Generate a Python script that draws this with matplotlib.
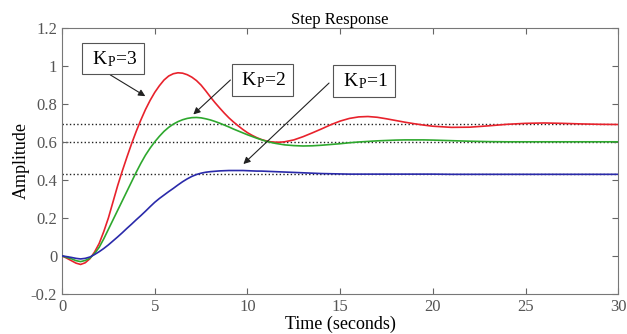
import numpy as np
import matplotlib
matplotlib.use('Agg')
import matplotlib.pyplot as plt

plt.rcParams['font.family'] = ['Liberation Serif', 'DejaVu Serif']
plt.rcParams['mathtext.fontset'] = 'custom'
plt.rcParams['mathtext.rm'] = 'Liberation Serif'
plt.rcParams['mathtext.it'] = 'Liberation Serif'

# time axis: 0..12 s in 0.25 s steps, 12.5..20 s in 0.5 s steps, then 21..30 s
t = ([i * 0.25 for i in range(49)] + [12.5 + i * 0.5 for i in range(16)]
     + list(range(21, 31)))

kp3 = [0, -0.012, -0.025, -0.038, -0.045, -0.036, -0.015, 0.02, 0.065, 0.128,
       0.2, 0.285, 0.37, 0.447, 0.52, 0.59, 0.655, 0.715, 0.77, 0.818,
       0.86, 0.895, 0.925, 0.946, 0.958, 0.963, 0.961, 0.953, 0.94, 0.922,
       0.898, 0.868, 0.836, 0.806, 0.778, 0.751, 0.726, 0.704, 0.684, 0.665,
       0.648, 0.634, 0.622, 0.612, 0.605, 0.6, 0.598, 0.598, 0.6,
       0.61, 0.627, 0.647, 0.668, 0.69, 0.709, 0.723, 0.731, 0.733, 0.729,
       0.721, 0.712, 0.703, 0.695, 0.688, 0.682,
       0.676, 0.677, 0.684, 0.692, 0.697, 0.699, 0.697, 0.694, 0.692, 0.691]
kp2 = [0, -0.008, -0.015, -0.025, -0.03, -0.024, -0.012, 0.012, 0.045, 0.09,
       0.14, 0.19, 0.24, 0.29, 0.34, 0.39, 0.44, 0.487, 0.53, 0.567,
       0.6, 0.629, 0.655, 0.676, 0.693, 0.706, 0.716, 0.723, 0.727, 0.728,
       0.726, 0.721, 0.715, 0.707, 0.698, 0.688, 0.678, 0.667, 0.657, 0.647,
       0.637, 0.628, 0.619, 0.611, 0.603, 0.597, 0.592, 0.588, 0.584,
       0.58, 0.578, 0.579, 0.582, 0.586, 0.59, 0.595, 0.599, 0.602, 0.605,
       0.607, 0.609, 0.61, 0.61, 0.61, 0.609,
       0.606, 0.603, 0.601, 0.6, 0.6, 0.6, 0.6, 0.6, 0.6, 0.6]
kp1 = [0, -0.004, -0.008, -0.013, -0.016, -0.013, -0.006, 0.007, 0.022, 0.039,
       0.058, 0.079, 0.1, 0.122, 0.145, 0.167, 0.19, 0.212, 0.235, 0.259,
       0.282, 0.302, 0.32, 0.338, 0.355, 0.373, 0.39, 0.405, 0.418, 0.428,
       0.435, 0.44, 0.443, 0.445, 0.447, 0.448, 0.449, 0.449, 0.449, 0.449,
       0.448, 0.447, 0.446, 0.446, 0.445, 0.444, 0.443, 0.442, 0.441,
       0.439, 0.437, 0.435, 0.433, 0.432, 0.431, 0.43, 0.43, 0.43, 0.43,
       0.43, 0.43, 0.43, 0.43, 0.43, 0.43,
       0.429, 0.429, 0.429, 0.429, 0.429, 0.429, 0.429, 0.429, 0.429, 0.429]
final_values = [0.6923, 0.6, 0.4286]

labels = [' K$_\\mathrm{P}$=3 ', ' K$_\\mathrm{P}$=2 ', ' K$_\\mathrm{P}$=1 ']
label_pos = [(2.76, 1.037), (10.8, 0.925), (16.3, 0.92)]
arrow_tail = [(2.6, 0.952), (9.08, 0.925), (14.4, 0.909)]
arrow_head = [(4.49, 0.84), (7.08, 0.744), (9.78, 0.483)]

fig = plt.figure(figsize=(6.27, 3.34), dpi=100)
ax = fig.add_axes([0.099, 0.12, 0.887, 0.797])

for v in final_values:
    ax.axhline(v, color='#222222', ls=':', lw=1.0, zorder=1)

ax.plot(t, kp3, color='#e8222c', lw=1.2, zorder=3)
ax.plot(t, kp2, color='#2ea82e', lw=1.2, zorder=3)
ax.plot(t, kp1, color='#2a2aaa', lw=1.2, zorder=3)

for lab, pos, tail, head in zip(labels, label_pos, arrow_tail, arrow_head):
    ax.annotate('', xy=head, xytext=tail,
                arrowprops=dict(arrowstyle='-|>', color='#222222', lw=0.8,
                                mutation_scale=10, shrinkA=0, shrinkB=0),
                zorder=4)
    ax.text(pos[0], pos[1], lab, fontsize=14, ha='center', va='center',
            bbox=dict(boxstyle='square,pad=0.3', fc='white', ec='#555555', lw=0.8),
            zorder=5)

ax.set_xlim(0, 30)
ax.set_ylim(-0.2, 1.2)
ax.set_xticks([0, 5, 10, 15, 20, 25, 30])
ax.set_yticks([-0.2, 0, 0.2, 0.4, 0.6, 0.8, 1.0, 1.2])
ax.set_yticklabels(['-0.2', '0', '0.2', '0.4', '0.6', '0.8', '1', '1.2'])
ax.tick_params(direction='in', top=True, right=True, length=4,
               labelsize=12, colors='#666666', labelcolor='#555555')
for s in ax.spines.values():
    s.set_color('#777777')

ax.set_title('Step Response', fontsize=12, pad=3)
ax.set_xlabel('Time (seconds)', fontsize=13, labelpad=1)
ax.set_ylabel('Amplitude', fontsize=13, labelpad=1)

fig.savefig('out.png', dpi=100)
